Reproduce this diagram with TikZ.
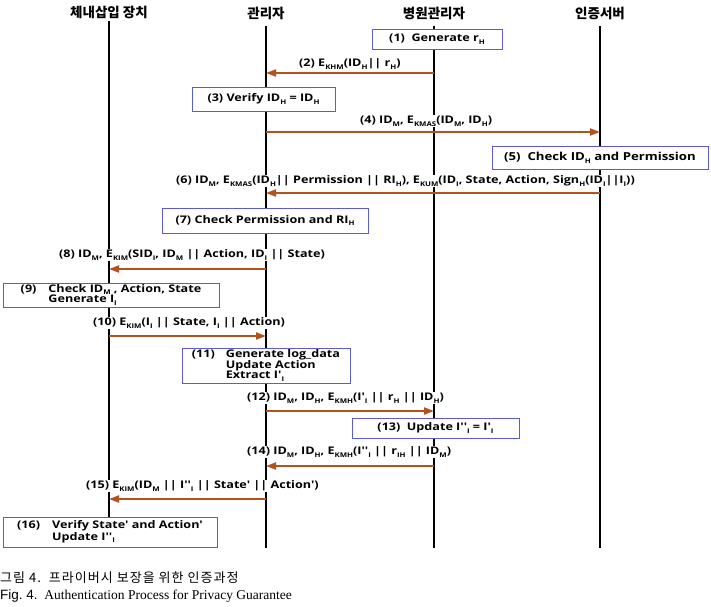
\documentclass[tikz,border=0pt]{standalone}
\usepackage{fontspec}
\setmainfont{Liberation Serif}
\newfontfamily\krfont{Noto Sans CJK KR}
\newfontfamily\capkr[LetterSpace=8]{Noto Sans CJK KR}
\newfontfamily\lblfont[FakeStretch=1.2]{Open Sans}
\newfontfamily\capsans{Liberation Sans}
\usetikzlibrary{arrows.meta, positioning}
\definecolor{seqblue}{HTML}{5A5AE0}
\definecolor{seqbrown}{HTML}{B4521E}
% small subscript in running text
\newcommand\lo[1]{\raisebox{-.45ex}{\fontsize{6.5}{6.5}\selectfont #1}}
\tikzset{
  seqhead/.style={font=\krfont\bfseries\fontsize{13.5}{14}\selectfont, inner sep=1pt},
  seqline/.style={line width=2.6pt, black},
  seqbox/.style={draw=seqblue, line width=1pt, fill=white, inner sep=0pt,
    font=\lblfont\bfseries\fontsize{10.5}{10.5}\selectfont, align=left},
  seqarrow/.style={-{Triangle[length=10pt, width=7pt]}, line width=2pt, seqbrown},
  seqlabel/.style={font=\lblfont\bfseries\fontsize{10.5}{11}\selectfont, fill=white,
    inner sep=1pt, anchor=west},
}

\begin{document}
\begin{tikzpicture}[x=1pt, y=-1pt]
  \useasboundingbox (0,0) rectangle (711,606);
  % Teilnehmer
  \node[seqhead] (dev) at (109,12) {체내삽입 장치};
  \node[seqhead] (mgr) at (266,13) {관리자};
  \node[seqhead] (hosp) at (434,13) {병원관리자};
  \node[seqhead] (auth) at (600,13) {인증서버};
  \coordinate (devtop) at (109,21);
  \coordinate (mgrtop) at (266,26);
  \coordinate (hosptop) at (434,26);
  \coordinate (authtop) at (600,26);
  \coordinate (devend) at (109,548);
  \coordinate (mgrend) at (266,548);
  \coordinate (hospend) at (434,548);
  \coordinate (authend) at (600,548);
  \draw[seqline] (devtop) -- (devend);
  \draw[seqline] (mgrtop) -- (mgrend);
  \draw[seqline] (hosptop) -- (hospend);
  \draw[seqline] (authtop) -- (authend);
  % (1)
  \node[seqbox, minimum width=130pt, minimum height=20pt] (b1) at (437,39) {(1)\ \ Generate r\lo{H}};
  % (2)
  \coordinate (m2a) at (434,73);
  \coordinate (m2b) at (266,73);
  \draw[seqarrow] (m2a) -- (m2b);
  \node[seqlabel] (l2) at (298,64) {(2) E\lo{KHM}(ID\lo{H}|| r\lo{H})};
  % (3)
  \node[seqbox, minimum width=143pt, minimum height=24pt] (b3) at (263.5,99) {(3) Verify ID\lo{H} = ID\lo{H}};
  % (4)
  \coordinate (m4a) at (266,132);
  \coordinate (m4b) at (600,132);
  \draw[seqarrow] (m4a) -- (m4b);
  \node[seqlabel] (l4) at (359,121) {(4) ID\lo{M}, E\lo{KMAS}(ID\lo{M}, ID\lo{H})};
  % (5)
  \node[seqbox, minimum width=216pt, minimum height=23pt, font=\lblfont\bfseries\fontsize{11}{11}\selectfont] (b5) at (600,157.5) {(5)\ \ Check ID\lo{H} and Permission};
  % (6)
  \coordinate (m6a) at (600,193);
  \coordinate (m6b) at (266,193);
  \draw[seqarrow] (m6a) -- (m6b);
  \node[seqlabel] (l6) at (175,181) {(6) ID\lo{M}, E\lo{KMAS}(ID\lo{H}|| Permission || RI\lo{H}), E\lo{KUM}(ID\lo{I}, State, Action, Sign\lo{H}(ID\lo{I}||I\lo{I}))};
  % (7)
  \node[seqbox, minimum width=206pt, minimum height=25pt] (b7) at (265,220.5) {(7) Check Permission and RI\lo{H}};
  % (8)
  \coordinate (m8a) at (266,269);
  \coordinate (m8b) at (109,269);
  \draw[seqarrow] (m8a) -- (m8b);
  \node[seqlabel] (l8) at (58,255) {(8) ID\lo{M}, E\lo{KIM}(SID\lo{I}, ID\lo{M} || Action, ID\lo{I} || State)};
  % (9)
  \node[seqbox, minimum width=216pt, minimum height=24pt] (b9) at (111,295)
    {\begin{tabular}{@{}l@{\hspace{12pt}}l@{}}(9) & Check ID\lo{M} , Action, State\\ & Generate I\lo{I}\end{tabular}};
  % (10)
  \coordinate (m10a) at (109,336);
  \coordinate (m10b) at (266,336);
  \draw[seqarrow] (m10a) -- (m10b);
  \node[seqlabel] (l10) at (92,323) {(10) E\lo{KIM}(I\lo{I} || State, I\lo{I} || Action)};
  % (11)
  \node[seqbox, minimum width=168pt, minimum height=35pt] (b11) at (266,365.5)
    {\begin{tabular}{@{}l@{\hspace{11pt}}l@{}}(11) & Generate log\_data\\ & Update Action\\ & Extract I'\lo{I}\end{tabular}};
  % (12)
  \coordinate (m12a) at (266,411);
  \coordinate (m12b) at (434,411);
  \draw[seqarrow] (m12a) -- (m12b);
  \node[seqlabel] (l12) at (246,398) {(12) ID\lo{M}, ID\lo{H}, E\lo{KMH}(I'\lo{I} || r\lo{H} || ID\lo{H})};
  % (13)
  \node[seqbox, minimum width=167pt, minimum height=20pt] (b13) at (435.5,428) {(13)\ \ Update I''\lo{I} = I'\lo{I}};
  % (14)
  \coordinate (m14a) at (434,466);
  \coordinate (m14b) at (266,466);
  \draw[seqarrow] (m14a) -- (m14b);
  \node[seqlabel] (l14) at (246,452) {(14) ID\lo{M}, ID\lo{H}, E\lo{KMH}(I''\lo{I} || r\lo{IH} || ID\lo{M})};
  % (15)
  \coordinate (m15a) at (266,499);
  \coordinate (m15b) at (109,499);
  \draw[seqarrow] (m15a) -- (m15b);
  \node[seqlabel] (l15) at (85,486) {(15) E\lo{KIM}(ID\lo{M} || I''\lo{I} || State' || Action')};
  % (16)
  \node[seqbox, minimum width=214pt, minimum height=30pt] (b16) at (110,532)
    {\begin{tabular}{@{}l@{\hspace{12pt}}l@{}}(16) & Verify State' and Action'\\ & Update I''\lo{I}\end{tabular}};
  % Bildunterschrift
  \node[anchor=west, inner sep=0pt, font=\capkr\fontsize{13}{14}\selectfont] (cap1) at (0,578) {그림 4.\ \ 프라이버시 보장을 위한 인증과정};
  \node[anchor=west, inner sep=0pt, font=\fontsize{13.5}{14}\selectfont] (cap2) at (0,596) {{\capsans Fig.\ 4.}\ \ Authentication Process for Privacy Guarantee};
\end{tikzpicture}
\end{document}
